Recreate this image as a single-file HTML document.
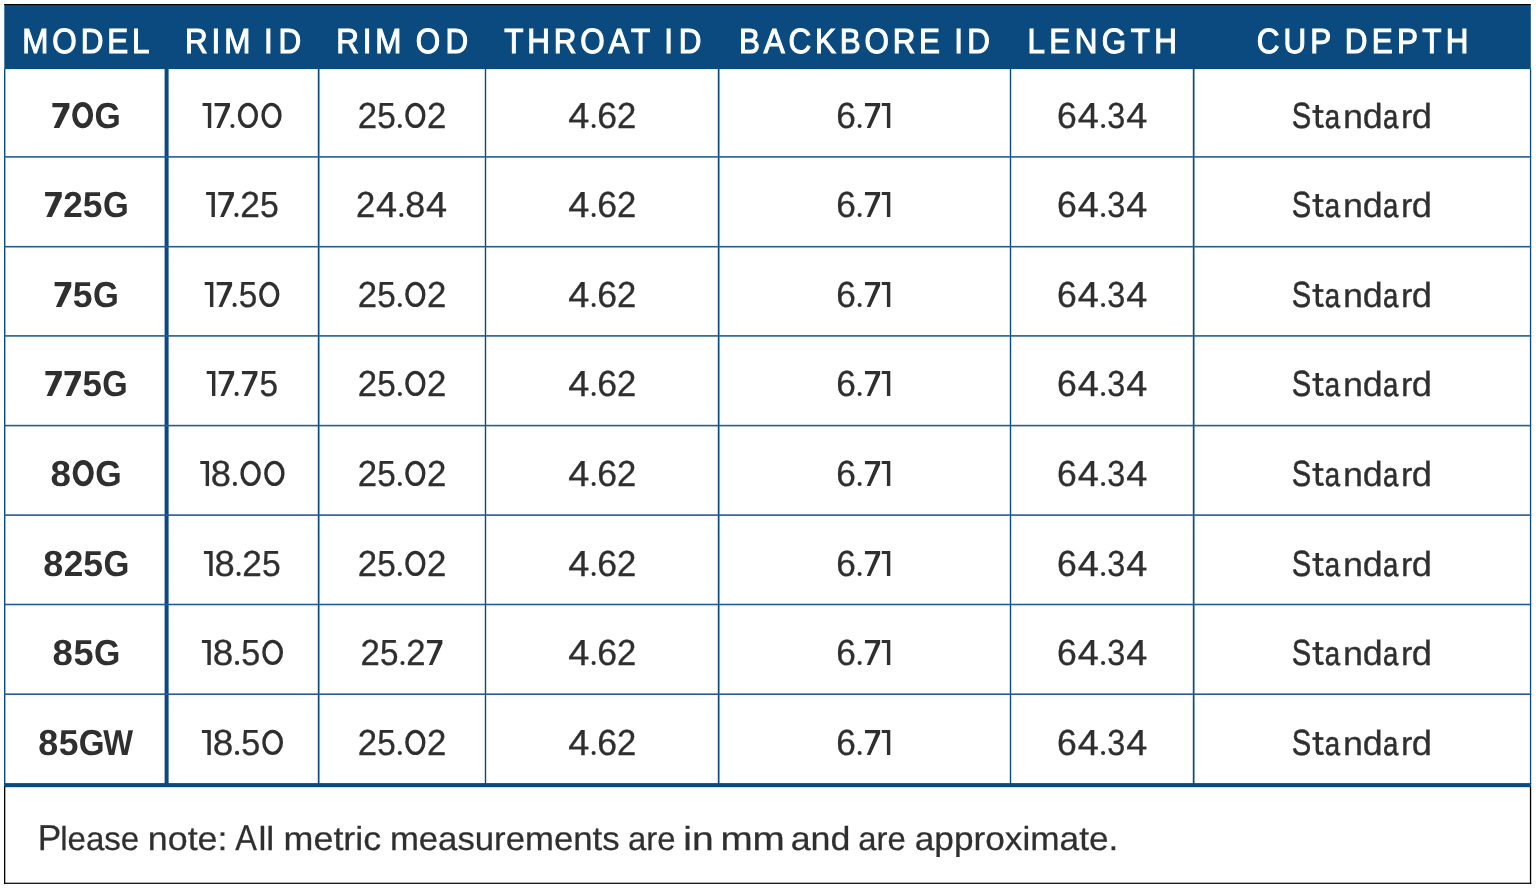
<!DOCTYPE html>
<html><head><meta charset="utf-8"><style>
html,body{margin:0;padding:0;background:#fff;}
body{width:1538px;height:892px;overflow:hidden;}
svg{display:block;will-change:transform;font-family:"Liberation Sans",sans-serif;text-rendering:geometricPrecision;}
</style></head><body>
<svg width="1538" height="892" viewBox="0 0 1538 892">
<rect x="0" y="0" width="1538" height="892" fill="#fff"/>
<g>
<rect x="4.30" y="4.00" width="1526.50" height="65.10" fill="#0b4a7e"/>
<rect x="4.30" y="4.00" width="1526.50" height="1.10" fill="#000"/>
<rect x="4.00" y="69.00" width="1.40" height="715.00" fill="#0b4a7e"/>
<rect x="1529.90" y="69.00" width="1.30" height="715.00" fill="#0b4a7e"/>
<rect x="164.60" y="69.00" width="4.00" height="716.00" fill="#0b4a7e"/>
<rect x="317.80" y="69.00" width="1.70" height="715.00" fill="#0b4a7e"/>
<rect x="484.80" y="69.00" width="1.40" height="715.00" fill="#0b4a7e"/>
<rect x="717.80" y="69.00" width="1.70" height="715.00" fill="#0b4a7e"/>
<rect x="1009.80" y="69.00" width="1.40" height="715.00" fill="#0b4a7e"/>
<rect x="1192.80" y="69.00" width="1.70" height="715.00" fill="#0b4a7e"/>
<rect x="4.00" y="156.10" width="1527.20" height="1.60" fill="#245d93"/>
<rect x="4.00" y="245.90" width="1527.20" height="1.60" fill="#245d93"/>
<rect x="4.00" y="335.10" width="1527.20" height="1.60" fill="#245d93"/>
<rect x="4.00" y="424.80" width="1527.20" height="1.60" fill="#245d93"/>
<rect x="4.00" y="514.30" width="1527.20" height="1.60" fill="#245d93"/>
<rect x="4.00" y="603.70" width="1527.20" height="1.60" fill="#245d93"/>
<rect x="4.00" y="693.40" width="1527.20" height="1.60" fill="#245d93"/>
<rect x="4.00" y="783.10" width="1527.20" height="4.10" fill="#0b4a7e"/>
<rect x="4.00" y="787.00" width="1.30" height="97.00" fill="#000"/>
<rect x="1529.90" y="787.00" width="1.30" height="97.00" fill="#000"/>
<rect x="4.00" y="882.70" width="1527.20" height="1.20" fill="#000"/>
<text transform="translate(22.259,53.00) scale(0.9000,1)" font-size="34.90" stroke="#fff" stroke-width="1.1" letter-spacing="4.347" fill="#fff">MODEL</text>
<text transform="translate(184.959,53.00) scale(0.9000,1)" font-size="34.90" stroke="#fff" stroke-width="1.1" letter-spacing="4.347" fill="#fff">RIM</text>
<text transform="translate(263.945,53.00) scale(0.9000,1)" font-size="34.90" stroke="#fff" stroke-width="1.1" letter-spacing="6.430" fill="#fff">ID</text>
<text transform="translate(336.259,53.00) scale(0.9000,1)" font-size="34.90" stroke="#fff" stroke-width="1.1" letter-spacing="4.235" fill="#fff">RIM</text>
<text transform="translate(415.858,53.00) scale(0.9000,1)" font-size="34.90" stroke="#fff" stroke-width="1.1" letter-spacing="5.854" fill="#fff">OD</text>
<text transform="translate(504.243,53.00) scale(0.9000,1)" font-size="34.90" stroke="#fff" stroke-width="1.1" letter-spacing="4.283" fill="#fff">THROAT</text>
<text transform="translate(664.145,53.00) scale(0.9000,1)" font-size="34.90" stroke="#fff" stroke-width="1.1" letter-spacing="6.542" fill="#fff">ID</text>
<text transform="translate(739.059,53.00) scale(0.9000,1)" font-size="34.90" stroke="#fff" stroke-width="1.1" letter-spacing="4.201" fill="#fff">BACKBORE</text>
<text transform="translate(954.245,53.00) scale(0.9000,1)" font-size="34.90" stroke="#fff" stroke-width="1.1" letter-spacing="4.875" fill="#fff">ID</text>
<text transform="translate(1027.459,53.00) scale(0.9000,1)" font-size="34.90" stroke="#fff" stroke-width="1.1" letter-spacing="4.919" fill="#fff">LENGTH</text>
<text transform="translate(1256.779,53.00) scale(0.9000,1)" font-size="34.90" stroke="#fff" stroke-width="1.1" letter-spacing="4.469" fill="#fff">CUP</text>
<text transform="translate(1344.659,53.00) scale(0.9000,1)" font-size="34.90" stroke="#fff" stroke-width="1.1" letter-spacing="4.806" fill="#fff">DEPTH</text>
<polygon points="52.40,103.10 69.41,103.10 69.41,107.58 59.29,128.00 53.66,128.00 63.11,107.33 52.40,107.33" fill="#2f2f2f"/>
<ellipse cx="82.65" cy="115.10" rx="8.09" ry="10.75" fill="none" stroke="#2f2f2f" stroke-width="4.8"/>
<text transform="translate(94.535,128.00) scale(0.9388,1)" font-size="36.00" font-weight="bold" fill="#2f2f2f">G</text>
<polygon points="202.60,103.10 211.25,103.10 211.25,128.00 207.85,128.00 207.85,106.10 202.60,106.10" fill="#2f2f2f"/>
<polygon points="214.58,103.10 229.97,103.10 229.97,106.59 220.07,128.00 216.38,128.00 225.66,106.34 214.58,106.34" fill="#2f2f2f"/>
<circle cx="232.44" cy="125.94" r="2.06" fill="#2f2f2f"/>
<ellipse cx="247.94" cy="115.40" rx="8.41" ry="10.98" fill="none" stroke="#2f2f2f" stroke-width="3.4"/>
<ellipse cx="271.49" cy="115.40" rx="8.41" ry="10.98" fill="none" stroke="#2f2f2f" stroke-width="3.4"/>
<text transform="translate(357.762,128.00) scale(0.9600,1)" font-size="36.20" stroke="#2f2f2f" stroke-width="0.3" fill="#2f2f2f">2</text>
<text transform="translate(377.303,128.00) scale(0.9195,1)" font-size="36.20" stroke="#2f2f2f" stroke-width="0.3" fill="#2f2f2f">5</text>
<circle cx="399.83" cy="125.94" r="2.06" fill="#2f2f2f"/>
<ellipse cx="415.34" cy="115.40" rx="8.42" ry="10.98" fill="none" stroke="#2f2f2f" stroke-width="3.4"/>
<text transform="translate(427.051,128.00) scale(0.9600,1)" font-size="36.20" stroke="#2f2f2f" stroke-width="0.3" fill="#2f2f2f">2</text>
<text transform="translate(568.246,128.00) scale(1.0480,1)" font-size="36.20" stroke="#2f2f2f" stroke-width="0.3" fill="#2f2f2f">4</text>
<circle cx="593.63" cy="125.94" r="2.06" fill="#2f2f2f"/>
<text transform="translate(597.213,128.00) scale(0.9825,1)" font-size="36.20" stroke="#2f2f2f" stroke-width="0.3" fill="#2f2f2f">6</text>
<text transform="translate(617.021,128.00) scale(0.9561,1)" font-size="36.20" stroke="#2f2f2f" stroke-width="0.3" fill="#2f2f2f">2</text>
<text transform="translate(836.237,128.00) scale(0.9740,1)" font-size="36.20" stroke="#2f2f2f" stroke-width="0.3" fill="#2f2f2f">6</text>
<circle cx="859.63" cy="125.96" r="2.04" fill="#2f2f2f"/>
<polygon points="864.95,103.10 880.16,103.10 880.16,106.59 870.38,128.00 866.73,128.00 875.90,106.34 864.95,106.34" fill="#2f2f2f"/>
<polygon points="881.75,103.10 890.30,103.10 890.30,128.00 886.90,128.00 886.90,106.10 881.75,106.10" fill="#2f2f2f"/>
<text transform="translate(1057.021,128.00) scale(0.9829,1)" font-size="36.20" stroke="#2f2f2f" stroke-width="0.3" fill="#2f2f2f">6</text>
<text transform="translate(1077.714,128.00) scale(1.0484,1)" font-size="36.20" stroke="#2f2f2f" stroke-width="0.3" fill="#2f2f2f">4</text>
<circle cx="1103.10" cy="125.94" r="2.06" fill="#2f2f2f"/>
<text transform="translate(1107.258,128.00) scale(0.8929,1)" font-size="36.20" stroke="#2f2f2f" stroke-width="0.3" fill="#2f2f2f">3</text>
<text transform="translate(1126.280,128.00) scale(1.0484,1)" font-size="36.20" stroke="#2f2f2f" stroke-width="0.3" fill="#2f2f2f">4</text>
<text transform="translate(1291.785,128.00) scale(0.8116,1.0115)" font-size="36.00" stroke="#2f2f2f" stroke-width="0.52" fill="#2f2f2f">S</text>
<path d="M1317.25,105.10 L1317.25,122.60 C1317.25,126.70 1319.20,126.40 1320.60,126.40 C1321.80,126.40 1322.70,126.10 1323.50,125.60" fill="none" stroke="#2f2f2f" stroke-width="3.4"/>
<rect x="1312.40" y="110.20" width="11.0" height="2.7" fill="#2f2f2f"/>
<text transform="translate(1324.867,128.00) scale(0.7664,0.9328)" font-size="36.00" stroke="#2f2f2f" stroke-width="0.63" fill="#2f2f2f">a</text>
<text transform="translate(1343.078,128.00) scale(0.9967,0.9328)" font-size="36.00" stroke="#2f2f2f" stroke-width="0.30" fill="#2f2f2f">n</text>
<text transform="translate(1362.820,128.00) scale(0.9932,0.9720)" font-size="36.00" stroke="#2f2f2f" stroke-width="0.30" fill="#2f2f2f">d</text>
<text transform="translate(1382.931,128.00) scale(0.7642,0.9328)" font-size="36.00" stroke="#2f2f2f" stroke-width="0.64" fill="#2f2f2f">a</text>
<text transform="translate(1401.041,128.00) scale(0.9500,0.9328)" font-size="36.00" stroke="#2f2f2f" stroke-width="0.30" fill="#2f2f2f">r</text>
<text transform="translate(1411.806,128.00) scale(1.0093,0.9720)" font-size="36.00" stroke="#2f2f2f" stroke-width="0.30" fill="#2f2f2f">d</text>
<polygon points="45.10,192.10 61.77,192.10 61.77,196.58 51.85,217.00 46.33,217.00 55.60,196.33 45.10,196.33" fill="#2f2f2f"/>
<text transform="translate(63.238,217.00) scale(0.9733,1)" font-size="36.00" font-weight="bold" fill="#2f2f2f">2</text>
<text transform="translate(82.825,217.00) scale(0.9858,1)" font-size="36.00" font-weight="bold" fill="#2f2f2f">5</text>
<text transform="translate(102.916,217.00) scale(0.9201,1)" font-size="36.00" font-weight="bold" fill="#2f2f2f">G</text>
<polygon points="206.10,192.10 214.90,192.10 214.90,217.00 211.50,217.00 211.50,195.10 206.10,195.10" fill="#2f2f2f"/>
<polygon points="218.27,192.10 233.92,192.10 233.92,195.59 223.86,217.00 220.10,217.00 229.54,195.34 218.27,195.34" fill="#2f2f2f"/>
<circle cx="236.43" cy="214.90" r="2.10" fill="#2f2f2f"/>
<text transform="translate(240.139,217.00) scale(0.9751,1)" font-size="36.20" stroke="#2f2f2f" stroke-width="0.3" fill="#2f2f2f">2</text>
<text transform="translate(259.987,217.00) scale(0.9340,1)" font-size="36.20" stroke="#2f2f2f" stroke-width="0.3" fill="#2f2f2f">5</text>
<text transform="translate(355.969,217.00) scale(0.9564,1)" font-size="36.20" stroke="#2f2f2f" stroke-width="0.3" fill="#2f2f2f">2</text>
<text transform="translate(375.911,217.00) scale(1.0484,1)" font-size="36.20" stroke="#2f2f2f" stroke-width="0.3" fill="#2f2f2f">4</text>
<circle cx="401.30" cy="214.94" r="2.06" fill="#2f2f2f"/>
<text transform="translate(405.142,217.00) scale(0.9908,1)" font-size="36.20" stroke="#2f2f2f" stroke-width="0.3" fill="#2f2f2f">8</text>
<text transform="translate(425.981,217.00) scale(1.0484,1)" font-size="36.20" stroke="#2f2f2f" stroke-width="0.3" fill="#2f2f2f">4</text>
<text transform="translate(568.246,217.00) scale(1.0480,1)" font-size="36.20" stroke="#2f2f2f" stroke-width="0.3" fill="#2f2f2f">4</text>
<circle cx="593.63" cy="214.94" r="2.06" fill="#2f2f2f"/>
<text transform="translate(597.213,217.00) scale(0.9825,1)" font-size="36.20" stroke="#2f2f2f" stroke-width="0.3" fill="#2f2f2f">6</text>
<text transform="translate(617.021,217.00) scale(0.9561,1)" font-size="36.20" stroke="#2f2f2f" stroke-width="0.3" fill="#2f2f2f">2</text>
<text transform="translate(836.237,217.00) scale(0.9740,1)" font-size="36.20" stroke="#2f2f2f" stroke-width="0.3" fill="#2f2f2f">6</text>
<circle cx="859.63" cy="214.96" r="2.04" fill="#2f2f2f"/>
<polygon points="864.95,192.10 880.16,192.10 880.16,195.59 870.38,217.00 866.73,217.00 875.90,195.34 864.95,195.34" fill="#2f2f2f"/>
<polygon points="881.75,192.10 890.30,192.10 890.30,217.00 886.90,217.00 886.90,195.10 881.75,195.10" fill="#2f2f2f"/>
<text transform="translate(1057.021,217.00) scale(0.9829,1)" font-size="36.20" stroke="#2f2f2f" stroke-width="0.3" fill="#2f2f2f">6</text>
<text transform="translate(1077.714,217.00) scale(1.0484,1)" font-size="36.20" stroke="#2f2f2f" stroke-width="0.3" fill="#2f2f2f">4</text>
<circle cx="1103.10" cy="214.94" r="2.06" fill="#2f2f2f"/>
<text transform="translate(1107.258,217.00) scale(0.8929,1)" font-size="36.20" stroke="#2f2f2f" stroke-width="0.3" fill="#2f2f2f">3</text>
<text transform="translate(1126.280,217.00) scale(1.0484,1)" font-size="36.20" stroke="#2f2f2f" stroke-width="0.3" fill="#2f2f2f">4</text>
<text transform="translate(1291.785,217.00) scale(0.8116,1.0115)" font-size="36.00" stroke="#2f2f2f" stroke-width="0.52" fill="#2f2f2f">S</text>
<path d="M1317.25,194.10 L1317.25,211.60 C1317.25,215.70 1319.20,215.40 1320.60,215.40 C1321.80,215.40 1322.70,215.10 1323.50,214.60" fill="none" stroke="#2f2f2f" stroke-width="3.4"/>
<rect x="1312.40" y="199.20" width="11.0" height="2.7" fill="#2f2f2f"/>
<text transform="translate(1324.867,217.00) scale(0.7664,0.9328)" font-size="36.00" stroke="#2f2f2f" stroke-width="0.63" fill="#2f2f2f">a</text>
<text transform="translate(1343.078,217.00) scale(0.9967,0.9328)" font-size="36.00" stroke="#2f2f2f" stroke-width="0.30" fill="#2f2f2f">n</text>
<text transform="translate(1362.820,217.00) scale(0.9932,0.9720)" font-size="36.00" stroke="#2f2f2f" stroke-width="0.30" fill="#2f2f2f">d</text>
<text transform="translate(1382.931,217.00) scale(0.7642,0.9328)" font-size="36.00" stroke="#2f2f2f" stroke-width="0.64" fill="#2f2f2f">a</text>
<text transform="translate(1401.041,217.00) scale(0.9500,0.9328)" font-size="36.00" stroke="#2f2f2f" stroke-width="0.30" fill="#2f2f2f">r</text>
<text transform="translate(1411.806,217.00) scale(1.0093,0.9720)" font-size="36.00" stroke="#2f2f2f" stroke-width="0.30" fill="#2f2f2f">d</text>
<polygon points="54.60,282.10 71.30,282.10 71.30,286.58 61.36,307.00 55.84,307.00 65.12,286.33 54.60,286.33" fill="#2f2f2f"/>
<text transform="translate(72.844,307.00) scale(0.9877,1)" font-size="36.00" font-weight="bold" fill="#2f2f2f">5</text>
<text transform="translate(92.973,307.00) scale(0.9218,1)" font-size="36.00" font-weight="bold" fill="#2f2f2f">G</text>
<polygon points="204.70,282.10 213.37,282.10 213.37,307.00 209.97,307.00 209.97,285.10 204.70,285.10" fill="#2f2f2f"/>
<polygon points="216.70,282.10 232.12,282.10 232.12,285.59 222.20,307.00 218.50,307.00 227.80,285.34 216.70,285.34" fill="#2f2f2f"/>
<circle cx="234.59" cy="304.93" r="2.07" fill="#2f2f2f"/>
<text transform="translate(238.651,307.00) scale(0.9204,1)" font-size="36.20" stroke="#2f2f2f" stroke-width="0.3" fill="#2f2f2f">5</text>
<ellipse cx="269.27" cy="294.40" rx="8.43" ry="10.98" fill="none" stroke="#2f2f2f" stroke-width="3.4"/>
<text transform="translate(357.762,307.00) scale(0.9600,1)" font-size="36.20" stroke="#2f2f2f" stroke-width="0.3" fill="#2f2f2f">2</text>
<text transform="translate(377.303,307.00) scale(0.9195,1)" font-size="36.20" stroke="#2f2f2f" stroke-width="0.3" fill="#2f2f2f">5</text>
<circle cx="399.83" cy="304.94" r="2.06" fill="#2f2f2f"/>
<ellipse cx="415.34" cy="294.40" rx="8.42" ry="10.98" fill="none" stroke="#2f2f2f" stroke-width="3.4"/>
<text transform="translate(427.051,307.00) scale(0.9600,1)" font-size="36.20" stroke="#2f2f2f" stroke-width="0.3" fill="#2f2f2f">2</text>
<text transform="translate(568.246,307.00) scale(1.0480,1)" font-size="36.20" stroke="#2f2f2f" stroke-width="0.3" fill="#2f2f2f">4</text>
<circle cx="593.63" cy="304.94" r="2.06" fill="#2f2f2f"/>
<text transform="translate(597.213,307.00) scale(0.9825,1)" font-size="36.20" stroke="#2f2f2f" stroke-width="0.3" fill="#2f2f2f">6</text>
<text transform="translate(617.021,307.00) scale(0.9561,1)" font-size="36.20" stroke="#2f2f2f" stroke-width="0.3" fill="#2f2f2f">2</text>
<text transform="translate(836.237,307.00) scale(0.9740,1)" font-size="36.20" stroke="#2f2f2f" stroke-width="0.3" fill="#2f2f2f">6</text>
<circle cx="859.63" cy="304.96" r="2.04" fill="#2f2f2f"/>
<polygon points="864.95,282.10 880.16,282.10 880.16,285.59 870.38,307.00 866.73,307.00 875.90,285.34 864.95,285.34" fill="#2f2f2f"/>
<polygon points="881.75,282.10 890.30,282.10 890.30,307.00 886.90,307.00 886.90,285.10 881.75,285.10" fill="#2f2f2f"/>
<text transform="translate(1057.021,307.00) scale(0.9829,1)" font-size="36.20" stroke="#2f2f2f" stroke-width="0.3" fill="#2f2f2f">6</text>
<text transform="translate(1077.714,307.00) scale(1.0484,1)" font-size="36.20" stroke="#2f2f2f" stroke-width="0.3" fill="#2f2f2f">4</text>
<circle cx="1103.10" cy="304.94" r="2.06" fill="#2f2f2f"/>
<text transform="translate(1107.258,307.00) scale(0.8929,1)" font-size="36.20" stroke="#2f2f2f" stroke-width="0.3" fill="#2f2f2f">3</text>
<text transform="translate(1126.280,307.00) scale(1.0484,1)" font-size="36.20" stroke="#2f2f2f" stroke-width="0.3" fill="#2f2f2f">4</text>
<text transform="translate(1291.785,307.00) scale(0.8116,1.0115)" font-size="36.00" stroke="#2f2f2f" stroke-width="0.52" fill="#2f2f2f">S</text>
<path d="M1317.25,284.10 L1317.25,301.60 C1317.25,305.70 1319.20,305.40 1320.60,305.40 C1321.80,305.40 1322.70,305.10 1323.50,304.60" fill="none" stroke="#2f2f2f" stroke-width="3.4"/>
<rect x="1312.40" y="289.20" width="11.0" height="2.7" fill="#2f2f2f"/>
<text transform="translate(1324.867,307.00) scale(0.7664,0.9328)" font-size="36.00" stroke="#2f2f2f" stroke-width="0.63" fill="#2f2f2f">a</text>
<text transform="translate(1343.078,307.00) scale(0.9967,0.9328)" font-size="36.00" stroke="#2f2f2f" stroke-width="0.30" fill="#2f2f2f">n</text>
<text transform="translate(1362.820,307.00) scale(0.9932,0.9720)" font-size="36.00" stroke="#2f2f2f" stroke-width="0.30" fill="#2f2f2f">d</text>
<text transform="translate(1382.931,307.00) scale(0.7642,0.9328)" font-size="36.00" stroke="#2f2f2f" stroke-width="0.64" fill="#2f2f2f">a</text>
<text transform="translate(1401.041,307.00) scale(0.9500,0.9328)" font-size="36.00" stroke="#2f2f2f" stroke-width="0.30" fill="#2f2f2f">r</text>
<text transform="translate(1411.806,307.00) scale(1.0093,0.9720)" font-size="36.00" stroke="#2f2f2f" stroke-width="0.30" fill="#2f2f2f">d</text>
<polygon points="45.40,371.10 61.83,371.10 61.83,375.58 52.06,396.00 46.62,396.00 55.75,375.33 45.40,375.33" fill="#2f2f2f"/>
<polygon points="64.49,371.10 80.92,371.10 80.92,375.58 71.15,396.00 65.71,396.00 74.84,375.33 64.49,375.33" fill="#2f2f2f"/>
<text transform="translate(82.444,396.00) scale(0.9719,1)" font-size="36.00" font-weight="bold" fill="#2f2f2f">5</text>
<text transform="translate(102.251,396.00) scale(0.9071,1)" font-size="36.00" font-weight="bold" fill="#2f2f2f">G</text>
<polygon points="206.70,371.10 215.37,371.10 215.37,396.00 211.97,396.00 211.97,374.10 206.70,374.10" fill="#2f2f2f"/>
<polygon points="218.70,371.10 234.14,371.10 234.14,374.59 224.21,396.00 220.51,396.00 229.81,374.34 218.70,374.34" fill="#2f2f2f"/>
<circle cx="236.61" cy="393.93" r="2.07" fill="#2f2f2f"/>
<polygon points="242.00,371.10 257.44,371.10 257.44,374.59 247.51,396.00 243.81,396.00 253.11,374.34 242.00,374.34" fill="#2f2f2f"/>
<text transform="translate(259.431,396.00) scale(0.9210,1)" font-size="36.20" stroke="#2f2f2f" stroke-width="0.3" fill="#2f2f2f">5</text>
<text transform="translate(357.762,396.00) scale(0.9600,1)" font-size="36.20" stroke="#2f2f2f" stroke-width="0.3" fill="#2f2f2f">2</text>
<text transform="translate(377.303,396.00) scale(0.9195,1)" font-size="36.20" stroke="#2f2f2f" stroke-width="0.3" fill="#2f2f2f">5</text>
<circle cx="399.83" cy="393.94" r="2.06" fill="#2f2f2f"/>
<ellipse cx="415.34" cy="383.40" rx="8.42" ry="10.98" fill="none" stroke="#2f2f2f" stroke-width="3.4"/>
<text transform="translate(427.051,396.00) scale(0.9600,1)" font-size="36.20" stroke="#2f2f2f" stroke-width="0.3" fill="#2f2f2f">2</text>
<text transform="translate(568.246,396.00) scale(1.0480,1)" font-size="36.20" stroke="#2f2f2f" stroke-width="0.3" fill="#2f2f2f">4</text>
<circle cx="593.63" cy="393.94" r="2.06" fill="#2f2f2f"/>
<text transform="translate(597.213,396.00) scale(0.9825,1)" font-size="36.20" stroke="#2f2f2f" stroke-width="0.3" fill="#2f2f2f">6</text>
<text transform="translate(617.021,396.00) scale(0.9561,1)" font-size="36.20" stroke="#2f2f2f" stroke-width="0.3" fill="#2f2f2f">2</text>
<text transform="translate(836.237,396.00) scale(0.9740,1)" font-size="36.20" stroke="#2f2f2f" stroke-width="0.3" fill="#2f2f2f">6</text>
<circle cx="859.63" cy="393.96" r="2.04" fill="#2f2f2f"/>
<polygon points="864.95,371.10 880.16,371.10 880.16,374.59 870.38,396.00 866.73,396.00 875.90,374.34 864.95,374.34" fill="#2f2f2f"/>
<polygon points="881.75,371.10 890.30,371.10 890.30,396.00 886.90,396.00 886.90,374.10 881.75,374.10" fill="#2f2f2f"/>
<text transform="translate(1057.021,396.00) scale(0.9829,1)" font-size="36.20" stroke="#2f2f2f" stroke-width="0.3" fill="#2f2f2f">6</text>
<text transform="translate(1077.714,396.00) scale(1.0484,1)" font-size="36.20" stroke="#2f2f2f" stroke-width="0.3" fill="#2f2f2f">4</text>
<circle cx="1103.10" cy="393.94" r="2.06" fill="#2f2f2f"/>
<text transform="translate(1107.258,396.00) scale(0.8929,1)" font-size="36.20" stroke="#2f2f2f" stroke-width="0.3" fill="#2f2f2f">3</text>
<text transform="translate(1126.280,396.00) scale(1.0484,1)" font-size="36.20" stroke="#2f2f2f" stroke-width="0.3" fill="#2f2f2f">4</text>
<text transform="translate(1291.785,396.00) scale(0.8116,1.0115)" font-size="36.00" stroke="#2f2f2f" stroke-width="0.52" fill="#2f2f2f">S</text>
<path d="M1317.25,373.10 L1317.25,390.60 C1317.25,394.70 1319.20,394.40 1320.60,394.40 C1321.80,394.40 1322.70,394.10 1323.50,393.60" fill="none" stroke="#2f2f2f" stroke-width="3.4"/>
<rect x="1312.40" y="378.20" width="11.0" height="2.7" fill="#2f2f2f"/>
<text transform="translate(1324.867,396.00) scale(0.7664,0.9328)" font-size="36.00" stroke="#2f2f2f" stroke-width="0.63" fill="#2f2f2f">a</text>
<text transform="translate(1343.078,396.00) scale(0.9967,0.9328)" font-size="36.00" stroke="#2f2f2f" stroke-width="0.30" fill="#2f2f2f">n</text>
<text transform="translate(1362.820,396.00) scale(0.9932,0.9720)" font-size="36.00" stroke="#2f2f2f" stroke-width="0.30" fill="#2f2f2f">d</text>
<text transform="translate(1382.931,396.00) scale(0.7642,0.9328)" font-size="36.00" stroke="#2f2f2f" stroke-width="0.64" fill="#2f2f2f">a</text>
<text transform="translate(1401.041,396.00) scale(0.9500,0.9328)" font-size="36.00" stroke="#2f2f2f" stroke-width="0.30" fill="#2f2f2f">r</text>
<text transform="translate(1411.806,396.00) scale(1.0093,0.9720)" font-size="36.00" stroke="#2f2f2f" stroke-width="0.30" fill="#2f2f2f">d</text>
<text transform="translate(50.606,486.00) scale(1.0204,1)" font-size="36.00" font-weight="bold" fill="#2f2f2f">8</text>
<ellipse cx="83.22" cy="473.10" rx="8.16" ry="10.75" fill="none" stroke="#2f2f2f" stroke-width="4.8"/>
<text transform="translate(95.180,486.00) scale(0.9448,1)" font-size="36.00" font-weight="bold" fill="#2f2f2f">G</text>
<polygon points="200.30,461.10 209.05,461.10 209.05,486.00 205.65,486.00 205.65,464.10 200.30,464.10" fill="#2f2f2f"/>
<text transform="translate(210.856,486.00) scale(1.0041,1)" font-size="36.20" stroke="#2f2f2f" stroke-width="0.3" fill="#2f2f2f">8</text>
<circle cx="234.93" cy="483.92" r="2.08" fill="#2f2f2f"/>
<ellipse cx="250.59" cy="473.40" rx="8.52" ry="10.98" fill="none" stroke="#2f2f2f" stroke-width="3.4"/>
<ellipse cx="274.38" cy="473.40" rx="8.52" ry="10.98" fill="none" stroke="#2f2f2f" stroke-width="3.4"/>
<text transform="translate(357.762,486.00) scale(0.9600,1)" font-size="36.20" stroke="#2f2f2f" stroke-width="0.3" fill="#2f2f2f">2</text>
<text transform="translate(377.303,486.00) scale(0.9195,1)" font-size="36.20" stroke="#2f2f2f" stroke-width="0.3" fill="#2f2f2f">5</text>
<circle cx="399.83" cy="483.94" r="2.06" fill="#2f2f2f"/>
<ellipse cx="415.34" cy="473.40" rx="8.42" ry="10.98" fill="none" stroke="#2f2f2f" stroke-width="3.4"/>
<text transform="translate(427.051,486.00) scale(0.9600,1)" font-size="36.20" stroke="#2f2f2f" stroke-width="0.3" fill="#2f2f2f">2</text>
<text transform="translate(568.246,486.00) scale(1.0480,1)" font-size="36.20" stroke="#2f2f2f" stroke-width="0.3" fill="#2f2f2f">4</text>
<circle cx="593.63" cy="483.94" r="2.06" fill="#2f2f2f"/>
<text transform="translate(597.213,486.00) scale(0.9825,1)" font-size="36.20" stroke="#2f2f2f" stroke-width="0.3" fill="#2f2f2f">6</text>
<text transform="translate(617.021,486.00) scale(0.9561,1)" font-size="36.20" stroke="#2f2f2f" stroke-width="0.3" fill="#2f2f2f">2</text>
<text transform="translate(836.237,486.00) scale(0.9740,1)" font-size="36.20" stroke="#2f2f2f" stroke-width="0.3" fill="#2f2f2f">6</text>
<circle cx="859.63" cy="483.96" r="2.04" fill="#2f2f2f"/>
<polygon points="864.95,461.10 880.16,461.10 880.16,464.59 870.38,486.00 866.73,486.00 875.90,464.34 864.95,464.34" fill="#2f2f2f"/>
<polygon points="881.75,461.10 890.30,461.10 890.30,486.00 886.90,486.00 886.90,464.10 881.75,464.10" fill="#2f2f2f"/>
<text transform="translate(1057.021,486.00) scale(0.9829,1)" font-size="36.20" stroke="#2f2f2f" stroke-width="0.3" fill="#2f2f2f">6</text>
<text transform="translate(1077.714,486.00) scale(1.0484,1)" font-size="36.20" stroke="#2f2f2f" stroke-width="0.3" fill="#2f2f2f">4</text>
<circle cx="1103.10" cy="483.94" r="2.06" fill="#2f2f2f"/>
<text transform="translate(1107.258,486.00) scale(0.8929,1)" font-size="36.20" stroke="#2f2f2f" stroke-width="0.3" fill="#2f2f2f">3</text>
<text transform="translate(1126.280,486.00) scale(1.0484,1)" font-size="36.20" stroke="#2f2f2f" stroke-width="0.3" fill="#2f2f2f">4</text>
<text transform="translate(1291.785,486.00) scale(0.8116,1.0115)" font-size="36.00" stroke="#2f2f2f" stroke-width="0.52" fill="#2f2f2f">S</text>
<path d="M1317.25,463.10 L1317.25,480.60 C1317.25,484.70 1319.20,484.40 1320.60,484.40 C1321.80,484.40 1322.70,484.10 1323.50,483.60" fill="none" stroke="#2f2f2f" stroke-width="3.4"/>
<rect x="1312.40" y="468.20" width="11.0" height="2.7" fill="#2f2f2f"/>
<text transform="translate(1324.867,486.00) scale(0.7664,0.9328)" font-size="36.00" stroke="#2f2f2f" stroke-width="0.63" fill="#2f2f2f">a</text>
<text transform="translate(1343.078,486.00) scale(0.9967,0.9328)" font-size="36.00" stroke="#2f2f2f" stroke-width="0.30" fill="#2f2f2f">n</text>
<text transform="translate(1362.820,486.00) scale(0.9932,0.9720)" font-size="36.00" stroke="#2f2f2f" stroke-width="0.30" fill="#2f2f2f">d</text>
<text transform="translate(1382.931,486.00) scale(0.7642,0.9328)" font-size="36.00" stroke="#2f2f2f" stroke-width="0.64" fill="#2f2f2f">a</text>
<text transform="translate(1401.041,486.00) scale(0.9500,0.9328)" font-size="36.00" stroke="#2f2f2f" stroke-width="0.30" fill="#2f2f2f">r</text>
<text transform="translate(1411.806,486.00) scale(1.0093,0.9720)" font-size="36.00" stroke="#2f2f2f" stroke-width="0.30" fill="#2f2f2f">d</text>
<text transform="translate(43.332,576.00) scale(0.9979,1)" font-size="36.00" font-weight="bold" fill="#2f2f2f">8</text>
<text transform="translate(63.668,576.00) scale(0.9775,1)" font-size="36.00" font-weight="bold" fill="#2f2f2f">2</text>
<text transform="translate(83.338,576.00) scale(0.9900,1)" font-size="36.00" font-weight="bold" fill="#2f2f2f">5</text>
<text transform="translate(103.515,576.00) scale(0.9240,1)" font-size="36.00" font-weight="bold" fill="#2f2f2f">G</text>
<polygon points="203.90,551.10 212.66,551.10 212.66,576.00 209.26,576.00 209.26,554.10 203.90,554.10" fill="#2f2f2f"/>
<text transform="translate(214.477,576.00) scale(1.0061,1)" font-size="36.20" stroke="#2f2f2f" stroke-width="0.3" fill="#2f2f2f">8</text>
<circle cx="238.59" cy="573.91" r="2.09" fill="#2f2f2f"/>
<text transform="translate(242.287,576.00) scale(0.9712,1)" font-size="36.20" stroke="#2f2f2f" stroke-width="0.3" fill="#2f2f2f">2</text>
<text transform="translate(262.056,576.00) scale(0.9303,1)" font-size="36.20" stroke="#2f2f2f" stroke-width="0.3" fill="#2f2f2f">5</text>
<text transform="translate(357.762,576.00) scale(0.9600,1)" font-size="36.20" stroke="#2f2f2f" stroke-width="0.3" fill="#2f2f2f">2</text>
<text transform="translate(377.303,576.00) scale(0.9195,1)" font-size="36.20" stroke="#2f2f2f" stroke-width="0.3" fill="#2f2f2f">5</text>
<circle cx="399.83" cy="573.94" r="2.06" fill="#2f2f2f"/>
<ellipse cx="415.34" cy="563.40" rx="8.42" ry="10.98" fill="none" stroke="#2f2f2f" stroke-width="3.4"/>
<text transform="translate(427.051,576.00) scale(0.9600,1)" font-size="36.20" stroke="#2f2f2f" stroke-width="0.3" fill="#2f2f2f">2</text>
<text transform="translate(568.246,576.00) scale(1.0480,1)" font-size="36.20" stroke="#2f2f2f" stroke-width="0.3" fill="#2f2f2f">4</text>
<circle cx="593.63" cy="573.94" r="2.06" fill="#2f2f2f"/>
<text transform="translate(597.213,576.00) scale(0.9825,1)" font-size="36.20" stroke="#2f2f2f" stroke-width="0.3" fill="#2f2f2f">6</text>
<text transform="translate(617.021,576.00) scale(0.9561,1)" font-size="36.20" stroke="#2f2f2f" stroke-width="0.3" fill="#2f2f2f">2</text>
<text transform="translate(836.237,576.00) scale(0.9740,1)" font-size="36.20" stroke="#2f2f2f" stroke-width="0.3" fill="#2f2f2f">6</text>
<circle cx="859.63" cy="573.96" r="2.04" fill="#2f2f2f"/>
<polygon points="864.95,551.10 880.16,551.10 880.16,554.59 870.38,576.00 866.73,576.00 875.90,554.34 864.95,554.34" fill="#2f2f2f"/>
<polygon points="881.75,551.10 890.30,551.10 890.30,576.00 886.90,576.00 886.90,554.10 881.75,554.10" fill="#2f2f2f"/>
<text transform="translate(1057.021,576.00) scale(0.9829,1)" font-size="36.20" stroke="#2f2f2f" stroke-width="0.3" fill="#2f2f2f">6</text>
<text transform="translate(1077.714,576.00) scale(1.0484,1)" font-size="36.20" stroke="#2f2f2f" stroke-width="0.3" fill="#2f2f2f">4</text>
<circle cx="1103.10" cy="573.94" r="2.06" fill="#2f2f2f"/>
<text transform="translate(1107.258,576.00) scale(0.8929,1)" font-size="36.20" stroke="#2f2f2f" stroke-width="0.3" fill="#2f2f2f">3</text>
<text transform="translate(1126.280,576.00) scale(1.0484,1)" font-size="36.20" stroke="#2f2f2f" stroke-width="0.3" fill="#2f2f2f">4</text>
<text transform="translate(1291.785,576.00) scale(0.8116,1.0115)" font-size="36.00" stroke="#2f2f2f" stroke-width="0.52" fill="#2f2f2f">S</text>
<path d="M1317.25,553.10 L1317.25,570.60 C1317.25,574.70 1319.20,574.40 1320.60,574.40 C1321.80,574.40 1322.70,574.10 1323.50,573.60" fill="none" stroke="#2f2f2f" stroke-width="3.4"/>
<rect x="1312.40" y="558.20" width="11.0" height="2.7" fill="#2f2f2f"/>
<text transform="translate(1324.867,576.00) scale(0.7664,0.9328)" font-size="36.00" stroke="#2f2f2f" stroke-width="0.63" fill="#2f2f2f">a</text>
<text transform="translate(1343.078,576.00) scale(0.9967,0.9328)" font-size="36.00" stroke="#2f2f2f" stroke-width="0.30" fill="#2f2f2f">n</text>
<text transform="translate(1362.820,576.00) scale(0.9932,0.9720)" font-size="36.00" stroke="#2f2f2f" stroke-width="0.30" fill="#2f2f2f">d</text>
<text transform="translate(1382.931,576.00) scale(0.7642,0.9328)" font-size="36.00" stroke="#2f2f2f" stroke-width="0.64" fill="#2f2f2f">a</text>
<text transform="translate(1401.041,576.00) scale(0.9500,0.9328)" font-size="36.00" stroke="#2f2f2f" stroke-width="0.30" fill="#2f2f2f">r</text>
<text transform="translate(1411.806,576.00) scale(1.0093,0.9720)" font-size="36.00" stroke="#2f2f2f" stroke-width="0.30" fill="#2f2f2f">d</text>
<text transform="translate(52.612,665.00) scale(1.0152,1)" font-size="36.00" font-weight="bold" fill="#2f2f2f">8</text>
<text transform="translate(73.375,665.00) scale(1.0072,1)" font-size="36.00" font-weight="bold" fill="#2f2f2f">5</text>
<text transform="translate(93.902,665.00) scale(0.9401,1)" font-size="36.00" font-weight="bold" fill="#2f2f2f">G</text>
<polygon points="201.90,640.10 210.78,640.10 210.78,665.00 207.38,665.00 207.38,643.10 201.90,643.10" fill="#2f2f2f"/>
<text transform="translate(212.625,665.00) scale(1.0201,1)" font-size="36.20" stroke="#2f2f2f" stroke-width="0.3" fill="#2f2f2f">8</text>
<circle cx="237.08" cy="662.88" r="2.12" fill="#2f2f2f"/>
<text transform="translate(241.239,665.00) scale(0.9433,1)" font-size="36.20" stroke="#2f2f2f" stroke-width="0.3" fill="#2f2f2f">5</text>
<ellipse cx="272.62" cy="652.40" rx="8.68" ry="10.98" fill="none" stroke="#2f2f2f" stroke-width="3.4"/>
<text transform="translate(360.464,665.00) scale(0.9592,1)" font-size="36.20" stroke="#2f2f2f" stroke-width="0.3" fill="#2f2f2f">2</text>
<text transform="translate(379.989,665.00) scale(0.9188,1)" font-size="36.20" stroke="#2f2f2f" stroke-width="0.3" fill="#2f2f2f">5</text>
<circle cx="402.50" cy="662.94" r="2.06" fill="#2f2f2f"/>
<text transform="translate(406.149,665.00) scale(0.9592,1)" font-size="36.20" stroke="#2f2f2f" stroke-width="0.3" fill="#2f2f2f">2</text>
<polygon points="427.00,640.10 442.40,640.10 442.40,643.59 432.50,665.00 428.81,665.00 438.09,643.34 427.00,643.34" fill="#2f2f2f"/>
<text transform="translate(568.246,665.00) scale(1.0480,1)" font-size="36.20" stroke="#2f2f2f" stroke-width="0.3" fill="#2f2f2f">4</text>
<circle cx="593.63" cy="662.94" r="2.06" fill="#2f2f2f"/>
<text transform="translate(597.213,665.00) scale(0.9825,1)" font-size="36.20" stroke="#2f2f2f" stroke-width="0.3" fill="#2f2f2f">6</text>
<text transform="translate(617.021,665.00) scale(0.9561,1)" font-size="36.20" stroke="#2f2f2f" stroke-width="0.3" fill="#2f2f2f">2</text>
<text transform="translate(836.237,665.00) scale(0.9740,1)" font-size="36.20" stroke="#2f2f2f" stroke-width="0.3" fill="#2f2f2f">6</text>
<circle cx="859.63" cy="662.96" r="2.04" fill="#2f2f2f"/>
<polygon points="864.95,640.10 880.16,640.10 880.16,643.59 870.38,665.00 866.73,665.00 875.90,643.34 864.95,643.34" fill="#2f2f2f"/>
<polygon points="881.75,640.10 890.30,640.10 890.30,665.00 886.90,665.00 886.90,643.10 881.75,643.10" fill="#2f2f2f"/>
<text transform="translate(1057.021,665.00) scale(0.9829,1)" font-size="36.20" stroke="#2f2f2f" stroke-width="0.3" fill="#2f2f2f">6</text>
<text transform="translate(1077.714,665.00) scale(1.0484,1)" font-size="36.20" stroke="#2f2f2f" stroke-width="0.3" fill="#2f2f2f">4</text>
<circle cx="1103.10" cy="662.94" r="2.06" fill="#2f2f2f"/>
<text transform="translate(1107.258,665.00) scale(0.8929,1)" font-size="36.20" stroke="#2f2f2f" stroke-width="0.3" fill="#2f2f2f">3</text>
<text transform="translate(1126.280,665.00) scale(1.0484,1)" font-size="36.20" stroke="#2f2f2f" stroke-width="0.3" fill="#2f2f2f">4</text>
<text transform="translate(1291.785,665.00) scale(0.8116,1.0115)" font-size="36.00" stroke="#2f2f2f" stroke-width="0.52" fill="#2f2f2f">S</text>
<path d="M1317.25,642.10 L1317.25,659.60 C1317.25,663.70 1319.20,663.40 1320.60,663.40 C1321.80,663.40 1322.70,663.10 1323.50,662.60" fill="none" stroke="#2f2f2f" stroke-width="3.4"/>
<rect x="1312.40" y="647.20" width="11.0" height="2.7" fill="#2f2f2f"/>
<text transform="translate(1324.867,665.00) scale(0.7664,0.9328)" font-size="36.00" stroke="#2f2f2f" stroke-width="0.63" fill="#2f2f2f">a</text>
<text transform="translate(1343.078,665.00) scale(0.9967,0.9328)" font-size="36.00" stroke="#2f2f2f" stroke-width="0.30" fill="#2f2f2f">n</text>
<text transform="translate(1362.820,665.00) scale(0.9932,0.9720)" font-size="36.00" stroke="#2f2f2f" stroke-width="0.30" fill="#2f2f2f">d</text>
<text transform="translate(1382.931,665.00) scale(0.7642,0.9328)" font-size="36.00" stroke="#2f2f2f" stroke-width="0.64" fill="#2f2f2f">a</text>
<text transform="translate(1401.041,665.00) scale(0.9500,0.9328)" font-size="36.00" stroke="#2f2f2f" stroke-width="0.30" fill="#2f2f2f">r</text>
<text transform="translate(1411.806,665.00) scale(1.0093,0.9720)" font-size="36.00" stroke="#2f2f2f" stroke-width="0.30" fill="#2f2f2f">d</text>
<text transform="translate(38.335,755.00) scale(0.9960,1)" font-size="36.00" font-weight="bold" fill="#2f2f2f">8</text>
<text transform="translate(58.705,755.00) scale(0.9882,1)" font-size="36.00" font-weight="bold" fill="#2f2f2f">5</text>
<text transform="translate(78.844,755.00) scale(0.9223,1)" font-size="36.00" font-weight="bold" fill="#2f2f2f">G</text>
<text transform="translate(103.205,755.00) scale(0.8781,1)" font-size="36.00" font-weight="bold" fill="#2f2f2f">W</text>
<polygon points="201.90,730.10 210.78,730.10 210.78,755.00 207.38,755.00 207.38,733.10 201.90,733.10" fill="#2f2f2f"/>
<text transform="translate(212.625,755.00) scale(1.0201,1)" font-size="36.20" stroke="#2f2f2f" stroke-width="0.3" fill="#2f2f2f">8</text>
<circle cx="237.08" cy="752.88" r="2.12" fill="#2f2f2f"/>
<text transform="translate(241.239,755.00) scale(0.9433,1)" font-size="36.20" stroke="#2f2f2f" stroke-width="0.3" fill="#2f2f2f">5</text>
<ellipse cx="272.62" cy="742.40" rx="8.68" ry="10.98" fill="none" stroke="#2f2f2f" stroke-width="3.4"/>
<text transform="translate(357.762,755.00) scale(0.9600,1)" font-size="36.20" stroke="#2f2f2f" stroke-width="0.3" fill="#2f2f2f">2</text>
<text transform="translate(377.303,755.00) scale(0.9195,1)" font-size="36.20" stroke="#2f2f2f" stroke-width="0.3" fill="#2f2f2f">5</text>
<circle cx="399.83" cy="752.94" r="2.06" fill="#2f2f2f"/>
<ellipse cx="415.34" cy="742.40" rx="8.42" ry="10.98" fill="none" stroke="#2f2f2f" stroke-width="3.4"/>
<text transform="translate(427.051,755.00) scale(0.9600,1)" font-size="36.20" stroke="#2f2f2f" stroke-width="0.3" fill="#2f2f2f">2</text>
<text transform="translate(568.246,755.00) scale(1.0480,1)" font-size="36.20" stroke="#2f2f2f" stroke-width="0.3" fill="#2f2f2f">4</text>
<circle cx="593.63" cy="752.94" r="2.06" fill="#2f2f2f"/>
<text transform="translate(597.213,755.00) scale(0.9825,1)" font-size="36.20" stroke="#2f2f2f" stroke-width="0.3" fill="#2f2f2f">6</text>
<text transform="translate(617.021,755.00) scale(0.9561,1)" font-size="36.20" stroke="#2f2f2f" stroke-width="0.3" fill="#2f2f2f">2</text>
<text transform="translate(836.237,755.00) scale(0.9740,1)" font-size="36.20" stroke="#2f2f2f" stroke-width="0.3" fill="#2f2f2f">6</text>
<circle cx="859.63" cy="752.96" r="2.04" fill="#2f2f2f"/>
<polygon points="864.95,730.10 880.16,730.10 880.16,733.59 870.38,755.00 866.73,755.00 875.90,733.34 864.95,733.34" fill="#2f2f2f"/>
<polygon points="881.75,730.10 890.30,730.10 890.30,755.00 886.90,755.00 886.90,733.10 881.75,733.10" fill="#2f2f2f"/>
<text transform="translate(1057.021,755.00) scale(0.9829,1)" font-size="36.20" stroke="#2f2f2f" stroke-width="0.3" fill="#2f2f2f">6</text>
<text transform="translate(1077.714,755.00) scale(1.0484,1)" font-size="36.20" stroke="#2f2f2f" stroke-width="0.3" fill="#2f2f2f">4</text>
<circle cx="1103.10" cy="752.94" r="2.06" fill="#2f2f2f"/>
<text transform="translate(1107.258,755.00) scale(0.8929,1)" font-size="36.20" stroke="#2f2f2f" stroke-width="0.3" fill="#2f2f2f">3</text>
<text transform="translate(1126.280,755.00) scale(1.0484,1)" font-size="36.20" stroke="#2f2f2f" stroke-width="0.3" fill="#2f2f2f">4</text>
<text transform="translate(1291.785,755.00) scale(0.8116,1.0115)" font-size="36.00" stroke="#2f2f2f" stroke-width="0.52" fill="#2f2f2f">S</text>
<path d="M1317.25,732.10 L1317.25,749.60 C1317.25,753.70 1319.20,753.40 1320.60,753.40 C1321.80,753.40 1322.70,753.10 1323.50,752.60" fill="none" stroke="#2f2f2f" stroke-width="3.4"/>
<rect x="1312.40" y="737.20" width="11.0" height="2.7" fill="#2f2f2f"/>
<text transform="translate(1324.867,755.00) scale(0.7664,0.9328)" font-size="36.00" stroke="#2f2f2f" stroke-width="0.63" fill="#2f2f2f">a</text>
<text transform="translate(1343.078,755.00) scale(0.9967,0.9328)" font-size="36.00" stroke="#2f2f2f" stroke-width="0.30" fill="#2f2f2f">n</text>
<text transform="translate(1362.820,755.00) scale(0.9932,0.9720)" font-size="36.00" stroke="#2f2f2f" stroke-width="0.30" fill="#2f2f2f">d</text>
<text transform="translate(1382.931,755.00) scale(0.7642,0.9328)" font-size="36.00" stroke="#2f2f2f" stroke-width="0.64" fill="#2f2f2f">a</text>
<text transform="translate(1401.041,755.00) scale(0.9500,0.9328)" font-size="36.00" stroke="#2f2f2f" stroke-width="0.30" fill="#2f2f2f">r</text>
<text transform="translate(1411.806,755.00) scale(1.0093,0.9720)" font-size="36.00" stroke="#2f2f2f" stroke-width="0.30" fill="#2f2f2f">d</text>
<text transform="translate(37.814,850.00) scale(0.9813,1.0000)" font-size="35.90" stroke="#2f2f2f" stroke-width="0.25" fill="#2f2f2f">P</text>
<text transform="translate(60.186,850.00) scale(0.9967,1.0000)" font-size="33.20" stroke="#2f2f2f" stroke-width="0.25" fill="#2f2f2f">lease</text>
<text transform="translate(147.802,850.00) scale(1.0788,1.0000)" font-size="33.20" stroke="#2f2f2f" stroke-width="0.25" fill="#2f2f2f">note:</text>
<text transform="translate(235.339,850.00) scale(0.9065,1.0000)" font-size="35.90" stroke="#2f2f2f" stroke-width="0.25" fill="#2f2f2f">A</text>
<text transform="translate(258.412,850.00) scale(1.0746,1.0000)" font-size="33.20" stroke="#2f2f2f" stroke-width="0.25" fill="#2f2f2f">ll</text>
<text transform="translate(283.547,850.00) scale(1.0811,1.0000)" font-size="33.20" stroke="#2f2f2f" stroke-width="0.25" fill="#2f2f2f">metric</text>
<text transform="translate(389.875,850.00) scale(1.0464,1.0000)" font-size="33.20" stroke="#2f2f2f" stroke-width="0.25" fill="#2f2f2f">measurements</text>
<text transform="translate(627.922,850.00) scale(0.9909,1.0000)" font-size="33.20" stroke="#2f2f2f" stroke-width="0.25" fill="#2f2f2f">are</text>
<text transform="translate(683.287,850.00) scale(1.1749,1.0000)" font-size="33.20" stroke="#2f2f2f" stroke-width="0.25" fill="#2f2f2f">in</text>
<text transform="translate(720.410,850.00) scale(1.1647,1.0000)" font-size="33.20" stroke="#2f2f2f" stroke-width="0.25" fill="#2f2f2f">mm</text>
<text transform="translate(790.698,850.00) scale(1.0787,1.0000)" font-size="33.20" stroke="#2f2f2f" stroke-width="0.25" fill="#2f2f2f">and</text>
<text transform="translate(858.222,850.00) scale(0.9909,1.0000)" font-size="33.20" stroke="#2f2f2f" stroke-width="0.25" fill="#2f2f2f">are</text>
<text transform="translate(914.723,850.00) scale(1.0611,1.0000)" font-size="33.20" stroke="#2f2f2f" stroke-width="0.25" fill="#2f2f2f">approximate.</text>
</g>
</svg>
</body></html>
